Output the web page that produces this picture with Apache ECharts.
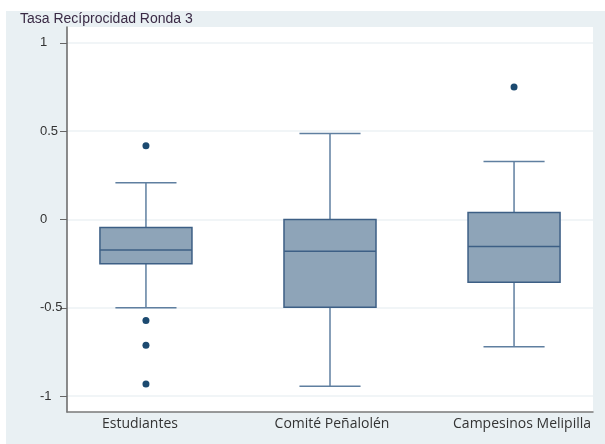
<!DOCTYPE html>
<html><head><meta charset="utf-8">
<script src="https://cdn.jsdelivr.net/npm/echarts@6/dist/echarts.min.js"></script>
<style>html,body{margin:0;padding:0;background:#fff}#c{width:605px;height:444px}</style>
</head><body><div id="c"></div>
<script>
const title = 'Tasa Recíprocidad Ronda 3';
const categories = ['Estudiantes', 'Comité Peñalolén', 'Campesinos Melipilla'];
const lowerWhisker = [-0.50, -0.944, -0.72];
const q1 = [-0.251, -0.497, -0.355];
const median = [-0.172, -0.18, -0.153];
const q3 = [-0.045, 0.0, 0.04];
const upperWhisker = [0.208, 0.487, 0.329];
const outlierGroup = [0, 0, 0, 0, 2];
const outlierValue = [0.417, -0.572, -0.712, -0.931, 0.75];
const yTicks = [-1, -0.5, 0, 0.5, 1];
const yTickLabels = ['-1', '-0.5', '0', '0.5', '1'];

const boxFill = '#8ea4b8', boxStroke = '#3d5f85', whiskerColor = '#5f7fa0', dotColor = '#1c4a70';
const labelStyles = ['a', 'b', 'c'];

const boxData = categories.map((c, i) => [i + 1, lowerWhisker[i], q1[i], median[i], q3[i], upperWhisker[i]]);
const outData = outlierGroup.map((g, k) => [g + 1, outlierValue[k]]);

const catFont = {fontFamily: 'Open Sans', fontSize: 14, color: '#333'};

const chart = echarts.init(document.getElementById('c'), null, {renderer: 'canvas'});
chart.setOption({
  animation: false,
  backgroundColor: '#ffffff',
  graphic: [{
    type: 'rect', z: -100, silent: true,
    shape: {x: 6, y: 11, width: 599, height: 433},
    style: {fill: '#e9f0f3'}
  }],
  title: {
    text: title, left: 15, top: 7,
    textStyle: {fontFamily: 'Liberation Sans, Arial', fontSize: 14, fontWeight: 'normal', color: '#3a2a45'}
  },
  grid: {left: 67, right: 12, top: 27, bottom: 32, show: true, backgroundColor: '#ffffff', borderWidth: 0},
  xAxis: {
    type: 'value', min: 0.571, max: 3.429,
    axisLine: {show: true, onZero: false, lineStyle: {color: '#7a7a7a', width: 1.5}},
    axisTick: {show: false},
    splitLine: {show: false},
    axisLabel: {
      customValues: [1, 2, 3],
      formatter: v => {
        const i = Math.round(v) - 1;
        return categories[i] ? '{' + labelStyles[i] + '|' + categories[i] + '}' : '';
      },
      margin: 5,
      rich: {
        a: Object.assign({padding: [0, 12, 0, 0]}, catFont),
        b: Object.assign({padding: [0, 0, 0, 4]}, catFont),
        c: Object.assign({padding: [0, 0, 0, 16]}, catFont)
      },
      ...catFont
    }
  },
  yAxis: {
    type: 'value', min: -1.09, max: 1.09,
    axisLine: {show: true, onZero: false, lineStyle: {color: '#666', width: 1.5}},
    axisTick: {show: true, customValues: yTicks, length: 7, lineStyle: {color: '#666'}},
    splitLine: {show: true, lineStyle: {color: '#edf2f4', width: 1.5}},
    axisLabel: {
      customValues: yTicks,
      formatter: v => yTickLabels[yTicks.indexOf(v)] ?? '',
      align: 'left', margin: 27, verticalAlign: 'middle', padding: [0, 0, 7, 0],
      fontFamily: 'Liberation Sans, Arial', fontSize: 13, color: '#333'
    }
  },
  series: [{
    type: 'custom',
    data: boxData,
    dimensions: ['x', 'lw', 'q1', 'med', 'q3', 'uw'],
    encode: {x: 0, y: [1, 2, 3, 4, 5]},
    renderItem(params, api) {
      const x = api.value(0);
      const unit = api.size([1, 0])[0];
      const bh = unit * 0.25, ch = unit * 0.166;
      const pLw = api.coord([x, api.value(1)]);
      const pQ1 = api.coord([x, api.value(2)]);
      const pM = api.coord([x, api.value(3)]);
      const pQ3 = api.coord([x, api.value(4)]);
      const pUw = api.coord([x, api.value(5)]);
      const cx = pQ1[0];
      const ws = {stroke: whiskerColor, lineWidth: 1.5};
      return {type: 'group', children: [
        {type: 'line', shape: {x1: cx, y1: pUw[1], x2: cx, y2: pQ3[1]}, style: ws},
        {type: 'line', shape: {x1: cx, y1: pQ1[1], x2: cx, y2: pLw[1]}, style: ws},
        {type: 'line', shape: {x1: cx - ch, y1: pUw[1], x2: cx + ch, y2: pUw[1]}, style: ws},
        {type: 'line', shape: {x1: cx - ch, y1: pLw[1], x2: cx + ch, y2: pLw[1]}, style: ws},
        {type: 'rect', shape: {x: cx - bh, y: pQ3[1], width: 2 * bh, height: pQ1[1] - pQ3[1]},
          style: {fill: boxFill, stroke: boxStroke, lineWidth: 1.5}},
        {type: 'line', shape: {x1: cx - bh, y1: pM[1], x2: cx + bh, y2: pM[1]}, style: {stroke: boxStroke, lineWidth: 1.5}}
      ]};
    }
  }, {
    type: 'scatter',
    data: outData,
    symbol: 'circle', symbolSize: 7,
    itemStyle: {color: dotColor, opacity: 1}
  }]
});
</script>
</body></html>
